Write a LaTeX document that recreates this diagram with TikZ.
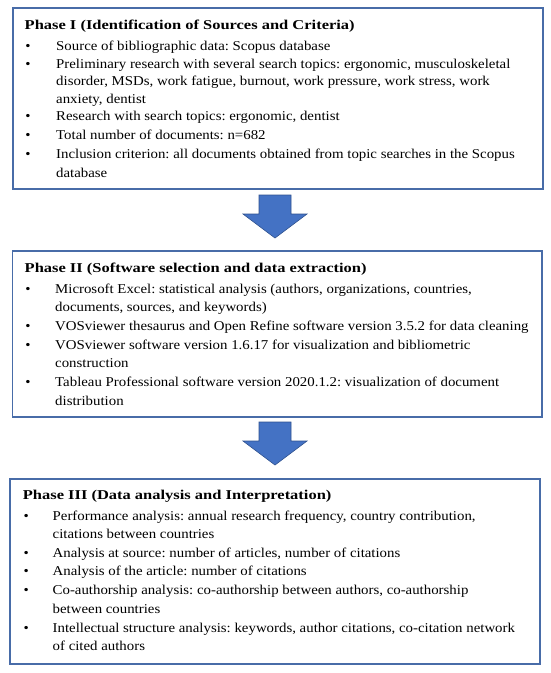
\documentclass[tikz,border=0pt]{standalone}
\usepackage{fontspec}
\setmainfont{Liberation Serif}[FakeStretch=1.1]
\newfontfamily\titlefont{Liberation Serif}[FakeStretch=1.22]
\definecolor{boxblue}{RGB}{72,108,168}
\definecolor{arrowblue}{RGB}{68,114,196}
\definecolor{arrowedge}{RGB}{47,82,143}
\frenchspacing
\begin{document}
\begin{tikzpicture}[x=1pt,y=-1pt,
  phasebox/.style={draw=boxblue, line width=1.8pt, anchor=north west, inner sep=0pt},
  titletext/.style={anchor=base west, inner sep=0pt, font=\titlefont\bfseries\fontsize{13.5}{15}\selectfont},
  bodytext/.style={anchor=base west, inner sep=0pt, font=\fontsize{13.5}{15}\selectfont},
  bulletmark/.style={anchor=base, inner sep=0pt, font=\fontsize{13.5}{15}\selectfont},
  blockarrow/.style={fill=arrowblue, draw=arrowedge, line width=0.6pt, line join=miter}]
\useasboundingbox (0,0) rectangle (550,673);
\fill[white] (0,0) rectangle (550,673);

% Boxes
\node[phasebox, minimum width=530pt, minimum height=181pt] (box1) at (12,7) {};
\node[phasebox, minimum width=529.5pt, minimum height=166pt] (box2) at (11.5,250) {};
\node[phasebox, minimum width=530pt, minimum height=185pt] (box3) at (9,478) {};

% Arrows
\draw[blockarrow] (259,195) -- (291,195) -- (291,214) -- (307,214) -- (275,238) -- (243,214) -- (259,214) -- cycle;
\draw[blockarrow] (259,422) -- (291,422) -- (291,441) -- (307,441) -- (275,465) -- (243,441) -- (259,441) -- cycle;

% Phase I
\node[titletext] (t1) at (24.5,29.5) {Phase I (Identification of Sources and Criteria)};
\node[bulletmark] (b1a) at (28,50.7) {\textbullet};
\node[bodytext] (l1a) at (56,50.7) {Source of bibliographic data: Scopus database};
\node[bulletmark] (b1b) at (28,68.3) {\textbullet};
\node[bodytext] (l1b) at (56,68.3) {Preliminary research with several search topics: ergonomic, musculoskeletal};
\node[bodytext] (l1c) at (56,85.7) {disorder, MSDs, work fatigue, burnout, work pressure, work stress, work};
\node[bodytext] (l1d) at (56,103.3) {anxiety, dentist};
\node[bulletmark] (b1e) at (28,120.7) {\textbullet};
\node[bodytext] (l1e) at (56,120.7) {Research with search topics: ergonomic, dentist};
\node[bulletmark] (b1f) at (28,139) {\textbullet};
\node[bodytext] (l1f) at (56,139) {Total number of documents: n=682};
\node[bulletmark] (b1g) at (28,158) {\textbullet};
\node[bodytext] (l1g) at (56,158) {Inclusion criterion: all documents obtained from topic searches in the Scopus};
\node[bodytext] (l1h) at (56,177.3) {database};

% Phase II
\node[titletext] (t2) at (24.5,272.8) {Phase II (Software selection and data extraction)};
\node[bulletmark] (b2a) at (28,293.3) {\textbullet};
\node[bodytext] (l2a) at (55,293.3) {Microsoft Excel: statistical analysis (authors, organizations, countries,};
\node[bodytext] (l2b) at (55,311.3) {documents, sources, and keywords)};
\node[bulletmark] (b2c) at (28,330.7) {\textbullet};
\node[bodytext] (l2c) at (55,330.7) {VOSviewer thesaurus and Open Refine software version 3.5.2 for data cleaning};
\node[bulletmark] (b2d) at (28,349) {\textbullet};
\node[bodytext] (l2d) at (55,349) {VOSviewer software version 1.6.17 for visualization and bibliometric};
\node[bodytext] (l2e) at (55,367.3) {construction};
\node[bulletmark] (b2f) at (28,386.7) {\textbullet};
\node[bodytext] (l2f) at (55,386.7) {Tableau Professional software version 2020.1.2: visualization of document};
\node[bodytext] (l2g) at (55,405) {distribution};

% Phase III
\node[titletext] (t3) at (22.7,499.5) {Phase III (Data analysis and Interpretation)};
\node[bulletmark] (b3a) at (26.3,520) {\textbullet};
\node[bodytext] (l3a) at (52.5,520) {Performance analysis: annual research frequency, country contribution,};
\node[bodytext] (l3b) at (52.5,538) {citations between countries};
\node[bulletmark] (b3c) at (26.3,557.3) {\textbullet};
\node[bodytext] (l3c) at (52.5,557.3) {Analysis at source: number of articles, number of citations};
\node[bulletmark] (b3d) at (26.3,575) {\textbullet};
\node[bodytext] (l3d) at (52.5,575) {Analysis of the article: number of citations};
\node[bulletmark] (b3e) at (26.3,594.7) {\textbullet};
\node[bodytext] (l3e) at (52.5,594.7) {Co-authorship analysis: co-authorship between authors, co-authorship};
\node[bodytext] (l3f) at (52.5,613.3) {between countries};
\node[bulletmark] (b3g) at (26.3,632.3) {\textbullet};
\node[bodytext] (l3g) at (52.5,632.3) {Intellectual structure analysis: keywords, author citations, co-citation network};
\node[bodytext] (l3h) at (52.5,650) {of cited authors};
\end{tikzpicture}
\end{document}
